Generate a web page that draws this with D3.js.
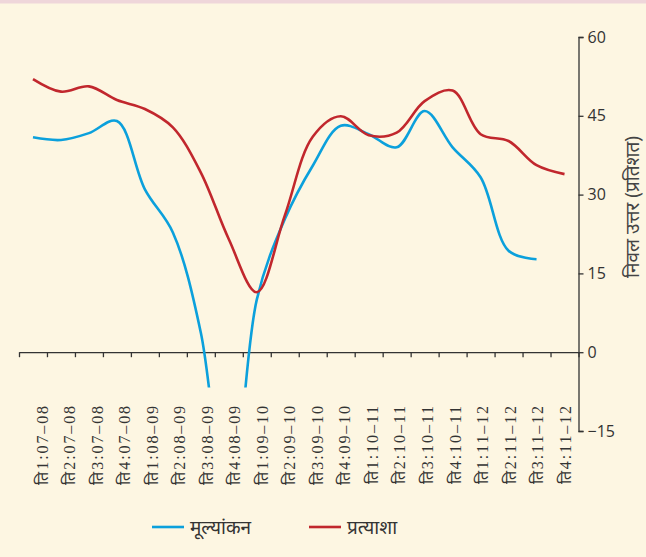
<!DOCTYPE html>
<html>
<head>
<meta charset="utf-8">
<script src="https://cdn.jsdelivr.net/npm/d3@7"></script>
<style>
body { margin: 0; background: #fdf6e2; }
svg { display: block; }
</style>
</head>
<body>
<div id="chart"></div>
<script>
// quarters on the x axis
const quarters = ["ति1:07–08","ति2:07–08","ति3:07–08","ति4:07–08",
  "ति1:08–09","ति2:08–09","ति3:08–09","ति4:08–09",
  "ति1:09–10","ति2:09–10","ति3:09–10","ति4:09–10",
  "ति1:10–11","ति2:10–11","ति3:10–11","ति4:10–11",
  "ति1:11–12","ति2:11–12","ति3:11–12","ति4:11–12"]

// मूल्यांकन (assessment) - no value for last quarter
const assessment = [40.9, 40.4, 41.7, 44.0, 31.0, 22.8, 3.7, -32, 10, 25.3,
  35.5, 43.1, 41.5, 39.0, 45.9, 39.0, 33.3, 19.3, 17.7]
// प्रत्याशा (expectation)
const expectation = [52.0, 49.6, 50.6, 48.0, 46.3, 42.8, 34.2, 21.5, 11.4, 26.0,
  41.0, 44.9, 41.3, 41.8, 47.8, 49.8, 41.5, 40.2, 35.6, 33.9]

const yTicks = [60, 45, 30, 15, 0, -15]
const seriesNames = ["मूल्यांकन", "प्रत्याशा"]
const colors = ["#0ba0dc", "#c1272d"]

const width = 646, height = 557
const margin = {top: 37, right: 67, bottom: 126, left: 19}

const svg = d3.select("#chart").append("svg")
  .attr("width", width)
  .attr("height", height)

svg.append("rect").attr("width", width).attr("height", height).attr("fill", "#fdf6e2")
svg.append("rect").attr("width", width).attr("height", 3.5).attr("fill", "#efd6da")

const xi = d3.scaleLinear()
  .domain([0, quarters.length])
  .range([margin.left, width - margin.right - 0.5])

// label positions sit a bit right of the band centres
const xLabel = d3.scalePoint()
  .domain(quarters)
  .range([42, 565])

const y = d3.scaleLinear()
  .domain([-15, 60])
  .range([height - margin.bottom, margin.top])

// clip for the assessment dip
svg.append("clipPath").attr("id", "clip")
  .append("rect")
  .attr("x", 0).attr("y", 0)
  .attr("width", width).attr("height", y(-6.7))

// x axis along zero
svg.append("g")
  .attr("transform", `translate(0,${y(0)})`)
  .call(d3.axisBottom(xi).ticks(quarters.length).tickSize(5).tickSizeOuter(0).tickFormat(""))
  .call(g => g.select(".domain").attr("stroke", "#333").attr("stroke-width", 1.3))
  .call(g => g.selectAll(".tick line").attr("stroke", "#333").attr("stroke-width", 1.3))

// x labels, rotated
svg.append("g")
  .selectAll("text")
  .data(quarters)
  .enter().append("text")
  .attr("transform", d => `translate(${xLabel(d)},404) rotate(-90)`)
  .attr("text-anchor", "end")
  .attr("dy", "0.35em")
  .style("font", "16px 'Liberation Serif', serif")
  .style("letter-spacing", "1.9px")
  .style("fill", "#333")
  .text(d => d)

// right y axis
const yAxis = svg.append("g")
  .attr("transform", `translate(${xi(quarters.length)},0)`)
  .call(d3.axisRight(y).tickValues(yTicks).tickSize(5).tickSizeOuter(5).tickPadding(4))
yAxis.select(".domain").attr("stroke", "#333").attr("stroke-width", 1.3)
yAxis.selectAll(".tick line").attr("stroke", "#333").attr("stroke-width", 1.3)
yAxis.selectAll(".tick text")
  .style("font", "16px 'Open Sans', sans-serif")
  .style("fill", "#333")

svg.append("text")
  .attr("transform", `translate(632,207) rotate(-90)`)
  .attr("text-anchor", "middle")
  .attr("dy", "0.35em")
  .style("font", "19px 'Noto Sans', sans-serif")
  .style("fill", "#444")
  .text("निवल उत्तर (प्रतिशत)")

const line = d3.line()
  .x((d, i) => xi(i + 0.5))
  .y(d => y(d))
  .curve(d3.curveCatmullRom.alpha(0.5))

svg.append("path")
  .datum(assessment)
  .attr("clip-path", "url(#clip)")
  .attr("fill", "none")
  .attr("stroke", colors[0])
  .attr("stroke-width", 2.6)
  .attr("d", line)

svg.append("path")
  .datum(expectation)
  .attr("fill", "none")
  .attr("stroke", colors[1])
  .attr("stroke-width", 2.6)
  .attr("d", line)

// legend
const legend = svg.append("g")
  .selectAll("g")
  .data(seriesNames)
  .enter().append("g")
  .attr("transform", (d, i) => `translate(${152 + i * 157},527)`)

legend.append("line")
  .attr("x1", 0).attr("x2", 32)
  .attr("stroke", (d, i) => colors[i])
  .attr("stroke-width", 2.6)

legend.append("text")
  .attr("x", 38)
  .attr("dy", "0.35em")
  .style("font", "19px 'Noto Sans', sans-serif")
  .style("fill", "#333")
  .text(d => d)
</script>
</body>
</html>
